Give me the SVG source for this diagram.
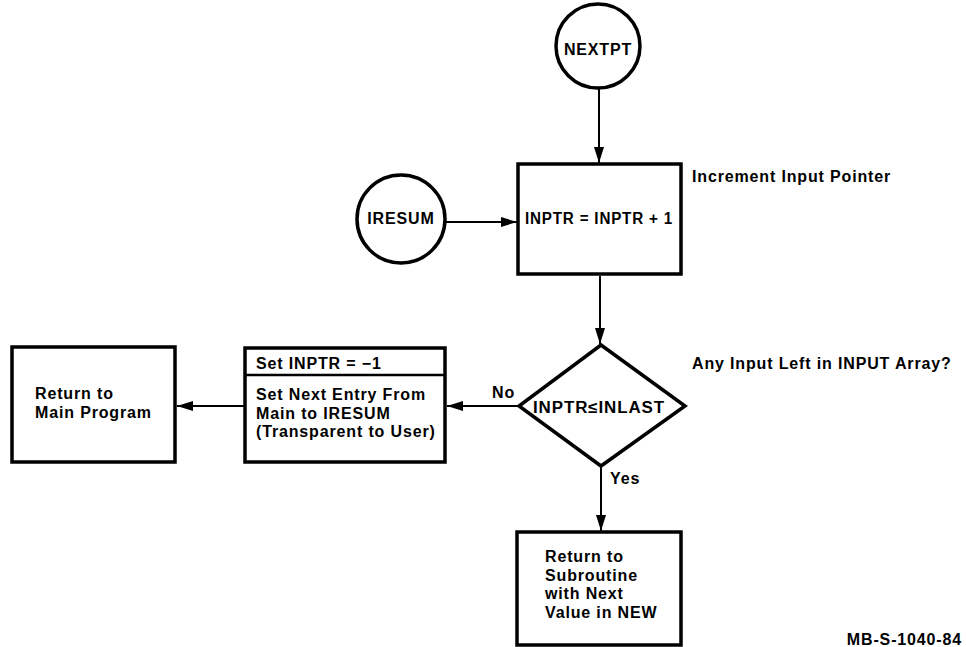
<svg xmlns="http://www.w3.org/2000/svg" width="966" height="647" viewBox="0 0 966 647">
<style>
.shape{fill:#fff;stroke:#000;stroke-width:3.5;stroke-linejoin:miter}
.conn{fill:none;stroke:#000;stroke-width:2}
text{font-family:"Liberation Sans",Arial,sans-serif;font-weight:bold;font-size:16px;fill:#000;letter-spacing:0.85px}
.mid{text-anchor:middle}
</style>
<defs>
<marker id="arr" viewBox="0 0 16 10" refX="16" refY="5" markerWidth="16" markerHeight="10" markerUnits="userSpaceOnUse" orient="auto">
<path d="M0,0 L16,5 L0,10 Z" fill="#000"/>
</marker>
</defs>
<rect width="966" height="647" fill="#fff"/>
<g id="connectors">
<line class="conn" x1="599" y1="88" x2="599" y2="163" marker-end="url(#arr)"/>
<line class="conn" x1="446" y1="222" x2="517" y2="222" marker-end="url(#arr)"/>
<line class="conn" x1="600" y1="276" x2="600" y2="344" marker-end="url(#arr)"/>
<line class="conn" x1="518" y1="406" x2="447" y2="406" marker-end="url(#arr)"/>
<line class="conn" x1="244" y1="406" x2="177" y2="406" marker-end="url(#arr)"/>
<line class="conn" x1="601" y1="467" x2="601" y2="531" marker-end="url(#arr)"/>
<text x="492" y="398">No</text>
<text x="610" y="484">Yes</text>
</g>
<g id="nextpt">
<circle class="shape" cx="598" cy="46" r="42"/>
<text class="mid" x="598" y="55">NEXTPT</text>
</g>
<g id="iresum">
<circle class="shape" cx="401" cy="219" r="44"/>
<text class="mid" x="401" y="224">IRESUM</text>
</g>
<g id="increment">
<rect class="shape" x="518" y="164" width="163" height="110"/>
<text x="525" y="224" textLength="148" lengthAdjust="spacingAndGlyphs">INPTR = INPTR + 1</text>
<text x="692" y="182">Increment Input Pointer</text>
</g>
<g id="decision">
<polygon class="shape" points="601,345 685,406 601,466 519,406" stroke-width="4"/>
<text x="533" y="413" textLength="132" lengthAdjust="spacingAndGlyphs">INPTR≤INLAST</text>
<text x="692" y="369">Any Input Left in INPUT Array?</text>
</g>
<g id="setbox">
<rect class="shape" x="245" y="348" width="200" height="114"/>
<line x1="245" y1="375" x2="445" y2="375" stroke="#000" stroke-width="2.5"/>
<text x="256" y="369">Set INPTR = −1</text>
<text x="256" y="400">Set Next Entry From</text>
<text x="256" y="418.5">Main to IRESUM</text>
<text x="256" y="437">(Transparent to User)</text>
</g>
<g id="mainprog">
<rect class="shape" x="12" y="347" width="163" height="115"/>
<text x="35" y="399">Return to</text>
<text x="35" y="418">Main Program</text>
</g>
<g id="subroutine">
<rect class="shape" x="517" y="532" width="164" height="113"/>
<text x="545" y="562">Return to</text>
<text x="545" y="580.5">Subroutine</text>
<text x="545" y="599">with Next</text>
<text x="545" y="617.5">Value in NEW</text>
</g>
<text x="962" y="645" font-size="10" letter-spacing="0.3" text-anchor="end">MB-S-1040-84</text>
</svg>
